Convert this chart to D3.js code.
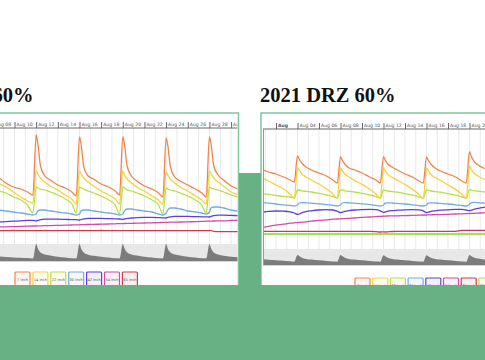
<!DOCTYPE html>
<html><head><meta charset="utf-8">
<script src="https://cdn.jsdelivr.net/npm/d3@7"></script>
<style>html,body{margin:0;padding:0;background:#fff;overflow:hidden}</style>
</head><body><svg id="c" width="485" height="360"></svg>
<script>
// ---------- data ----------
const titleLeft = "2020 DRZ 60%";
const titleRight = "2021 DRZ 60%";
const seriesNames = ["7 inch","14 inch","22 inch","30 inch","42 inch","54 inch","65 inch","76 inch"];
const seriesColors = ["#f0854c","#f4d33c","#b9df45","#74aae6","#5b40de","#d24ba7","#cf3a4c","#a8de5a"];

// left chart (days of August)
const tickDaysL = [8,10,12,14,16,18,20,22,24,26,28,30];
const tickLabelsL = ["Aug 08","Aug 10","Aug 12","Aug 14","Aug 16","Aug 18","Aug 20","Aug 22","Aug 24","Aug 26","Aug 28","Aug 30"];
const tL = [8.5,9.2,9.9,10.6,11.2, 11.7,12,12.15,12.4,12.8,13.3,14,14.7,15.3, 15.7,16,16.15,16.4,16.8,17.3,18,18.7,19.3, 19.7,20,20.15,20.4,20.8,21.3,22,22.7,23.3, 23.7,24,24.15,24.4,24.8,25.3,26,26.7,27.3, 27.7,28,28.15,28.4,28.8,29.3,30,30.7,31];
const in7L  = [31.5,28.5,26.5,25.5,24, 22.5,52.5,48.5,37,32,30,27.5,26,24, 22,51.5,48,36.5,32,30.5,28,26.5,24.5, 22.5,51.5,48,37,32,29.5,27,25.5,23.5, 21.5,51,47.5,36.5,31.5,29.5,27.5,25.5,23.5, 21.5,51.5,48,37,32.5,30,27,25.5,25];
const in14L = [28.5,26.5,24,21.5,19.5, 18.5,34.5,33,31,29,27,25,22.5,20.5, 18,34.5,33,31,29,27,24.5,22.5,20.5, 18,34.5,32.5,30.5,28.5,26.5,24.5,22,20, 18,34,32.5,30.5,28.5,26.5,24.5,22,20, 18,34.5,33,31,29,27,24,22.5,21.5];
const in22L = [24.5,23.5,21.5,20,17.5, 13.5,26.5,26,25.5,25,24,22.5,20.5,18, 13.5,26.5,26,25.5,24.5,23.5,22,20,17.5, 13,26.5,26,25,24.5,23.5,22,20,17.5, 13,26,25.5,25,24.5,23.5,22,20,17.5, 13.5,26.5,26,25.5,25,24,22.5,21.5,21];
const in30L = [15,14.5,14,13.5,13, 12.5,13,14.5,15,15,14.5,14,13.5,13, 12.5,13,14.5,15,15,14.5,14,13.5,13, 12.5,13,14.5,15.5,15.5,15,14.5,14,13, 12.5,13.5,15,16,16,15.5,14.5,14,13.5, 13,14,16,16.5,16.5,16,15,14.5,14.5];
const in42L = [9,9.2,9.4,9.6,9.8, 9.8,9.6,9.8,10.2,10.4,10.4,10.4,10.3,10.2, 10.2,10,10.2,10.6,10.8,10.8,10.8,10.7,10.6, 10.5,10.3,10.5,10.8,11,11.2,11.3,11.3,11.2, 11.1,11,11.3,11.6,11.8,11.8,11.8,11.7,11.6, 11.6,11.5,11.8,12.2,12.4,12.4,12.3,12.2,12.2];
const in54L = [6.5,6.6,6.7,6.8,6.9, 7,7,7.05,7.1,7.15,7.2,7.3,7.4,7.5, 7.6,7.6,7.65,7.7,7.75,7.8,7.9,8,8.1, 8.2,8.2,8.25,8.3,8.35,8.4,8.5,8.6,8.7, 8.8,8.8,8.85,8.9,8.95,9,9.1,9.2,9.3, 9.4,9.4,9.45,9.5,9.55,9.6,9.8,9.9,10];
const in65L = [4.7,4.7,4.75,4.7,4.7, 4.7,4.7,4.7,4.7,4.75,4.7,4.7,4.7,4.7, 4.7,4.7,4.7,4.7,4.7,4.7,4.75,4.7,4.7, 4.7,4.7,4.7,4.7,4.7,4.7,4.7,4.7,4.7, 4.7,4.7,4.7,4.7,4.7,4.7,4.7,4.7,4.7, 4.7,4.7,4.7,4.3,4.2,4.2,4.2,4.2,4.2];
const areaL = [28,24,21,19,17, 15,100,75,50,38,32,25,20,16, 15,100,74,50,37,31,25,20,16, 15,100,75,51,38,32,25,20,16, 15,100,74,50,38,32,25,20,16, 15,100,75,50,38,31,25,21,19];

// right chart
const tickDaysR = [2,4,6,8,10,12,14,16,18,20];
const tickLabelsR = ["Aug","Aug 04","Aug 06","Aug 08","Aug 10","Aug 12","Aug 14","Aug 16","Aug 18","Aug 20"];
const tR = [0.7,1.3,2,2.7,3.3, 3.7,4,4.15,4.4,4.8,5.3,6,6.7,7.3, 7.7,8,8.15,8.4,8.8,9.3,10,10.7,11.3, 11.7,12,12.15,12.4,12.8,13.3,14,14.7,15.3, 15.7,16,16.15,16.4,16.8,17.3,18,18.7,19.3, 19.7,20,20.15,20.4,20.8,21.3,21.8];
const in7R  = [35.25,34,33,31.5,30, 29,42,40.5,38.5,36.5,35,33.5,32,30, 28.5,41.7,40,38,36,35,33.5,31.5,30, 28.5,41.7,40,38,36.5,35,33,31.5,29.5, 28.5,41.4,40,38,36,34.5,33,31.5,29.5, 28.5,44.2,42,39.5,37.5,36,35];
const in14R = [31,29.5,27.5,25.5,23, 21,36.3,35,33,31.5,30,28,25.5,23, 20.8,36,34.8,33,31.5,29.8,27.8,25.5,23, 20.8,36,34.8,32.8,31.3,29.8,27.8,25.3,22.8, 20.8,36,34.8,32.8,31.3,29.8,27.5,25.3,22.8, 20.8,37,35.5,33.5,32,30.5,29.5];
const in22R = [23.3,22.8,22.3,21.8,21.5, 21,25,25,24.6,24.3,24,23.3,22.5,21.7, 21,25,25,24.6,24.3,24,23.3,22.5,21.7, 21,25,24.8,24.5,24.2,23.9,23.2,22.4,21.6, 21,25,24.8,24.5,24.2,23.9,23.2,22.4,21.6, 21,25.2,25,24.7,24.4,24.1,23.8];
const in30R = [18.7,18.4,18,17.6,17.3, 17,17.5,18.5,18.7,18.6,18.4,18.1,17.7,17.3, 17,17.5,18.5,18.7,18.6,18.4,18.1,17.7,17.3, 17,17.5,18.4,18.6,18.5,18.3,18,17.6,17.2, 17,17.5,18.4,18.6,18.5,18.3,18,17.6,17.2, 17,17.8,18.6,18.8,18.7,18.5,18.4];
const in42R = [13.8,14.3,14.5,14.4,14.1, 13.5,12.8,13,13.6,14.2,14.6,15,15.2,15, 14.4,13.7,13.9,14.3,14.7,15,15.2,15.3,15.2, 14.6,13.8,14,14.4,14.7,14.9,15.1,15.2,15.1, 14.6,13.7,13.9,14.3,14.6,14.9,15.1,15.3,15.3, 15,14.7,14.9,15.3,15.8,16.3,16.8];
const in54R = [6.2,6.8,7.4,7.9,8.4, 8.6,8.7,8.8,8.9,9.1,9.4,9.8,10.1,10.4, 10.5,10.6,10.65,10.7,10.85,11,11.3,11.5,11.7, 11.8,11.9,11.95,12,12.05,12.1,12.2,12.3,12.4, 12.5,12.5,12.55,12.6,12.65,12.7,12.85,13,13.1, 13.2,13.25,13.3,13.35,13.45,13.6,13.8];
const in65R = [4.3,4.3,4.3,4.3,4.3, 4.3,4.3,4.3,4.3,4.3,4.3,4.3,4.3,4.3, 4.3,4.3,4.3,4.3,4.3,4.3,4.3,4.3,4.2, 4.0,4.1,4.0,4.1,4.25,4.3,4.3,4.3,4.3, 4.3,4.3,4.3,4.3,4.3,4.3,4.3,4.35,4.8, 4.8,4.8,4.8,4.8,4.8,4.8,4.8];
const in76R = [3,3,3,3,3, 3,3,3,3,3,3,3,3,3, 3,3,3,3,3,3,3,3,3, 3,3,3,3,3,3,3,3,3, 3,3,3,3,3,3,3,3,3, 3,3,3,3,3,3,3];
const areaR = [36,33,30,27,24, 21,62,56,46,38,34,29,25,22, 21,62,56,46,38,34,29,25,22, 21,61,55,46,38,34,29,25,22, 21,61,55,46,38,34,29,25,22, 21,63,57,47,40,35,31];

// ---------- drawing ----------
const GREEN = "#67b185", FRAME = "#7fc59e";
const svg = d3.select("#c");
svg.append("rect").attr("width",485).attr("height",360).attr("fill","#fff");
const defs = svg.append("defs");

function drawChart(o) {
  const g = svg.append("g");
  g.append("rect").attr("x",o.frame[0]).attr("y",o.frame[1]).attr("width",o.frame[2]).attr("height",o.frame[3])
    .attr("fill","#fff").attr("stroke",FRAME).attr("stroke-width",1.5);
  const fid = o.id+"f", pid = o.id+"p";
  defs.append("clipPath").attr("id",fid).append("rect")
    .attr("x",o.frame[0]+1).attr("y",o.frame[1]+1).attr("width",o.frame[2]-2).attr("height",o.frame[3]-2);
  defs.append("clipPath").attr("id",pid).append("rect")
    .attr("x",o.plotX[0]).attr("y",o.axisY).attr("width",o.plotX[1]-o.plotX[0]).attr("height",o.bandBottom-o.axisY);
  const gf = g.append("g").attr("clip-path",`url(#${fid})`);
  const gp = gf.append("g").attr("clip-path",`url(#${pid})`);

  const x = d3.scaleLinear().domain(o.xDomain).range(o.xRange);
  const y = d3.scaleLinear().domain([0,55]).range([240,130]);
  const ya = d3.scaleLinear().domain([0,100]).range([o.bandBottom,o.bandTop]);

  const d0 = Math.floor(x.invert(o.plotX[0])), d1 = Math.ceil(x.invert(o.plotX[1]));
  gp.selectAll(".grid").data(d3.range(d0,d1+1)).join("line")
    .attr("x1",d=>x(d)).attr("x2",d=>x(d)).attr("y1",o.axisY).attr("y2",o.bandTop)
    .attr("stroke","#e3e3e3").attr("stroke-width",0.8);
  gp.append("rect").attr("x",o.plotX[0]).attr("y",o.bandTop).attr("width",o.plotX[1]-o.plotX[0])
    .attr("height",o.bandBottom-o.bandTop).attr("fill","#e8e8e8");
  gp.append("path").datum(o.area.map((v,i)=>[o.t[i],v]))
    .attr("fill","#7c7c7c")
    .attr("d",d3.area().x(d=>x(d[0])).y0(ya(0)).y1(d=>ya(d[1])).curve(d3.curveMonotoneX));
  gf.append("line").attr("x1",o.plotX[0]).attr("x2",o.plotX[1]).attr("y1",o.bandBottom+0.5).attr("y2",o.bandBottom+0.5)
    .attr("stroke","#d4d4d4").attr("stroke-width",1);

  const line = d3.line().x(d=>x(d[0])).y(d=>y(d[1])).curve(d3.curveMonotoneX);
  o.series.map((s,i)=>({s,i})).reverse().forEach(({s,i})=>{
    gp.append("path").datum(s.map((v,k)=>[o.t[k],v]))
      .attr("fill","none").attr("stroke",seriesColors[i])
      .attr("stroke-width", i===7 ? 2.2 : 1.3).attr("stroke-linejoin","round")
      .attr("d",line);
  });

  const ax = gf.append("g").attr("transform",`translate(0,${o.axisY})`)
    .call(d3.axisTop(x).tickValues(o.ticks).tickFormat((d,i)=>o.tickLabels[i]).tickSize(6).tickSizeOuter(0));
  ax.select(".domain").attr("stroke","#666").attr("d",`M${o.plotX[0]},0H${o.plotX[1]}`);
  ax.selectAll(".tick line").attr("stroke","#666");
  ax.selectAll(".tick text").attr("x",1.5).attr("y",-2.5).attr("text-anchor","start")
    .attr("font-size",4.6).attr("font-family","DejaVu Sans, sans-serif").attr("fill","#555")
    .attr("font-weight",(d,i)=>o.tickLabels[i]==="Aug"?"bold":"normal");
  if (o.leftAxis) {
    gf.append("line").attr("x1",o.plotX[0]+0.5).attr("x2",o.plotX[0]+0.5).attr("y1",o.axisY).attr("y2",o.bandBottom)
      .attr("stroke","#999").attr("stroke-width",1);
  }

  const nL = o.series.length;
  const lg = gf.selectAll(".lg").data(d3.range(nL)).join("g")
    .attr("transform",i=>`translate(${o.legendX + i*o.legendStep},${o.legendY})`);
  lg.append("rect").attr("width",15).attr("height",18).attr("rx",1)
    .attr("fill",i=>{const c=d3.color(seriesColors[i]); c.opacity=0.08; return c+"";})
    .attr("stroke",i=>seriesColors[i]).attr("stroke-width",1.2);
  lg.append("text").attr("x",7.5).attr("y",o.legendTextY).attr("text-anchor","middle")
    .attr("font-size",3.6).attr("font-family","DejaVu Sans, sans-serif").attr("fill","#555")
    .text(i=>seriesNames[i]);
}

drawChart({id:"L", frame:[-2,113,240.5,180], plotX:[-5,237.5], axisY:128, bandTop:244, bandBottom:261,
  xDomain:[10,30], xRange:[14.5,231.1], ticks:tickDaysL, tickLabels:tickLabelsL, t:tL,
  series:[in7L,in14L,in22L,in30L,in42L,in54L,in65L], area:areaL,
  legendX:15, legendStep:17.9, legendY:272, legendTextY:9, leftAxis:false});

drawChart({id:"R", frame:[261,113,230,180], plotX:[263,490], axisY:129, bandTop:249, bandBottom:265,
  xDomain:[2,20], xRange:[276,469.5], ticks:tickDaysR, tickLabels:tickLabelsR, t:tR,
  series:[in7R,in14R,in22R,in30R,in42R,in54R,in65R,in76R], area:areaR,
  legendX:355, legendStep:17.7, legendY:278, legendTextY:8.5, leftAxis:true});

svg.append("rect").attr("x",239).attr("y",173).attr("width",22).attr("height",120).attr("fill",GREEN);
svg.append("rect").attr("x",0).attr("y",285).attr("width",485).attr("height",75).attr("fill",GREEN);

const tf = "Liberation Serif, DejaVu Serif, Times New Roman, serif";
svg.append("text").attr("x",33.5).attr("y",101.5).attr("text-anchor","end")
  .attr("font-family",tf).attr("font-weight","bold").attr("font-size",20.5).attr("fill","#111").text(titleLeft);
svg.append("text").attr("x",260).attr("y",101.5).attr("text-anchor","start")
  .attr("font-family",tf).attr("font-weight","bold").attr("font-size",20.5).attr("fill","#111").text(titleRight);
</script></body></html>
